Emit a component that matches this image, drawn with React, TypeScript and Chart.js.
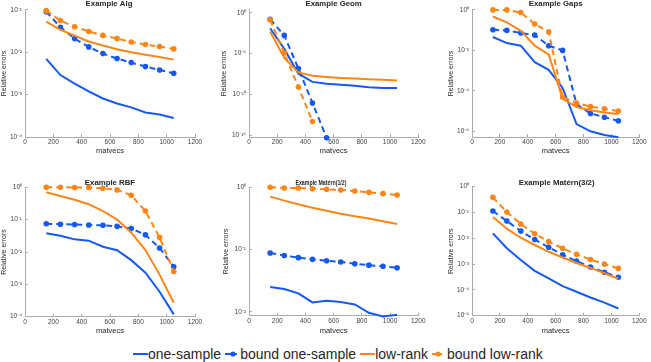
import { useEffect, useRef } from "react";
import { Chart, registerables } from "chart.js";

Chart.register(...registerables);

// ---------------- data ----------------
const MATVECS = [150, 250, 350, 450, 550, 650, 750, 850, 950, 1050];
const X_TICKS = [0, 200, 400, 600, 800, 1000, 1200];
const SERIES_NAMES = ["one-sample", "bound one-sample", "low-rank", "bound low-rank"];

const ALG_ONE = [7.0e-3, 2.9e-3, 1.83e-3, 1.19e-3, 8.1e-4, 6.2e-4, 5.0e-4, 3.8e-4, 3.4e-4, 2.8e-4];
const ALG_BOUND_ONE = [0.091, 0.039, 0.021, 0.0134, 0.0093, 0.0071, 0.0057, 0.0046, 0.0038, 0.0032];
const ALG_LOW = [0.053, 0.034, 0.0247, 0.018, 0.0144, 0.0118, 0.01, 0.0087, 0.0077, 0.0067];
const ALG_BOUND_LOW = [0.096, 0.056, 0.04, 0.031, 0.025, 0.021, 0.0175, 0.0152, 0.0136, 0.012];
const ALG_TICKS = [1e-4, 1e-3, 1e-2, 1e-1];

const GEOM_ONE = [1.26e-2, 3.8e-5, 3.5e-8, 3.5e-9, 2.0e-9, 1.6e-9, 1.2e-9, 7.6e-10, 6.3e-10, 6.3e-10];
const GEOM_BOUND_ONE = [0.16, 1.7e-3, 1.5e-7, 8.9e-12, 5.2e-16, null, null, null, null, null];
const GEOM_LOW = [5.1e-3, 3.0e-6, 5.0e-8, 2.0e-8, 1.4e-8, 1.07e-8, 8.9e-9, 7.4e-9, 6.3e-9, 5.1e-9];
const GEOM_BOUND_LOW = [0.135, 1.17e-5, 8.3e-10, 5.0e-14, null, null, null, null, null, null];
const GEOM_TICKS = [1e-15, 1e-10, 1e-5, 1];

const GAPS_ONE = [0.046, 0.023, 0.017, 2.6e-3, 1.1e-3, 1.4e-4, 2.3e-6, 1.0e-6, 6.6e-7, 5.1e-7];
const GAPS_BOUND_ONE = [0.105, 0.097, 0.072, 0.057, 0.017, 0.01, 2.2e-5, 7.6e-6, 5.0e-6, 3.3e-6];
const GAPS_LOW = [0.47, 0.24, 0.093, 0.017, 6.3e-3, 4.0e-5, 1.6e-5, 1.1e-5, 8.5e-6, 7.1e-6];
const GAPS_BOUND_LOW = [1.0, 1.0, 0.74, 0.2, 0.082, 5.0e-5, 2.5e-5, 1.66e-5, 1.3e-5, 1.0e-5];
const GAPS_TICKS = [1e-6, 1e-4, 1e-2, 1];

const RBF_ONE = [0.038, 0.032, 0.0246, 0.0224, 0.0146, 0.0113, 0.0056, 0.0023, 5.9e-4, 1.18e-4];
const RBF_BOUND_ONE = [0.075, 0.072, 0.071, 0.068, 0.067, 0.062, 0.053, 0.034, 0.0133, 0.0035];
const RBF_LOW = [0.7, 0.54, 0.41, 0.3, 0.185, 0.1, 0.04, 0.0115, 0.002, 2.7e-4];
const RBF_BOUND_LOW = [1.0, 1.0, 0.99, 0.99, 0.93, 0.83, 0.57, 0.185, 0.028, 0.0025];
const RBF_TICKS = [1e-4, 1e-3, 1e-2, 1e-1, 1];

const M12_ONE = [0.0249, 0.0232, 0.0197, 0.0141, 0.015, 0.0143, 0.0131, 0.0096, 0.0084, 0.0089];
const M12_BOUND_ONE = [0.088, 0.08, 0.074, 0.0695, 0.066, 0.063, 0.059, 0.056, 0.0537, 0.051];
const M12_LOW = [0.708, 0.61, 0.533, 0.47, 0.42, 0.377, 0.342, 0.314, 0.284, 0.257];
const M12_BOUND_LOW = [1.0, 0.975, 0.975, 0.95, 0.93, 0.906, 0.873, 0.83, 0.79, 0.75];
const M12_TICKS = [1e-2, 1e-1, 1];

const M32_ONE = [0.0155, 0.0041, 0.00144, 5.5e-4, 2.8e-4, 1.4e-4, 8.5e-5, 5.1e-5, 3.2e-5, 1.9e-5];
const M32_BOUND_ONE = [0.114, 0.047, 0.019, 0.0089, 0.0045, 0.0023, 0.0013, 7.7e-4, 4.8e-4, 3.1e-4];
const M32_LOW = [0.067, 0.0236, 0.0105, 0.0055, 0.003, 0.0018, 0.0011, 7.1e-4, 4.4e-4, 2.7e-4];
const M32_BOUND_LOW = [0.386, 0.104, 0.036, 0.015, 0.0074, 0.0041, 0.0024, 0.0015, 0.001, 6.8e-4];
const M32_TICKS = [1e-5, 1e-4, 1e-3, 1e-2, 1e-1, 1];

// ---------------- styles ----------------
const FONT = '"Liberation Sans", Arial, Helvetica, sans-serif';
const BLUE = "#1659f2";
const ORANGE = "#ff8616";
const COLORS = [BLUE, BLUE, ORANGE, ORANGE];
const AXIS_COLOR = "#ababab";
const TICK_COLOR = "#3d3d3d";
const TEXT_COLOR = "#262626";

type Panel = {
  title: string;
  series: (number | null)[][];
  yMin: number;
  yMax: number;
  yTicks: number[];
};

const PANELS: Panel[] = [
  { title: "Example Alg", series: [ALG_ONE, ALG_BOUND_ONE, ALG_LOW, ALG_BOUND_LOW], yMin: 1e-4, yMax: 1e-1, yTicks: ALG_TICKS },
  { title: "Example Geom", series: [GEOM_ONE, GEOM_BOUND_ONE, GEOM_LOW, GEOM_BOUND_LOW], yMin: Math.pow(10, -15.2), yMax: Math.pow(10, 0.35), yTicks: GEOM_TICKS },
  { title: "Example Gaps", series: [GAPS_ONE, GAPS_BOUND_ONE, GAPS_LOW, GAPS_BOUND_LOW], yMin: Math.pow(10, -6.28), yMax: 1, yTicks: GAPS_TICKS },
  { title: "Example RBF", series: [RBF_ONE, RBF_BOUND_ONE, RBF_LOW, RBF_BOUND_LOW], yMin: 1e-4, yMax: 1, yTicks: RBF_TICKS },
  { title: "Example Matérn(1/2)", series: [M12_ONE, M12_BOUND_ONE, M12_LOW, M12_BOUND_LOW], yMin: Math.pow(10, -2.064), yMax: 1, yTicks: M12_TICKS },
  { title: "Example Matérn(3/2)", series: [M32_ONE, M32_BOUND_ONE, M32_LOW, M32_BOUND_LOW], yMin: 1e-5, yMax: 1, yTicks: M32_TICKS },
];

type Box = {
  left: number; top: number; w: number; h: number;
  padTop: number; padRight: number; yAxisW: number; xAxisH: number;
  yTitlePad: number; titleY: number; titleDx: number; titleMaxW?: number;
};

const BOXES: Box[] = [
  { left: 0, top: 0, w: 210, h: 155, padTop: 8.3, padRight: 15, yAxisW: 25, xAxisH: 18, yTitlePad: 0, titleY: 3.5, titleDx: -1 },
  { left: 210, top: 0, w: 220, h: 155, padTop: 5.3, padRight: 11, yAxisW: 39, xAxisH: 18, yTitlePad: 9.8, titleY: 3.5, titleDx: 0 },
  { left: 430, top: 0, w: 221, h: 155, padTop: 8.3, padRight: 9, yAxisW: 42, xAxisH: 18, yTitlePad: 16.5, titleY: 3.5, titleDx: 0 },
  { left: 0, top: 170, w: 210, h: 165, padTop: 17.3, padRight: 15, yAxisW: 25, xAxisH: 18.3, yTitlePad: 0, titleY: 12.5, titleDx: 0 },
  { left: 210, top: 170, w: 220, h: 165, padTop: 17.3, padRight: 11, yAxisW: 39, xAxisH: 19.3, yTitlePad: 11.8, titleY: 12.5, titleDx: -12.7, titleMaxW: 51 },
  { left: 430, top: 170, w: 221, h: 165, padTop: 16.7, padRight: 9, yAxisW: 42, xAxisH: 19.3, yTitlePad: 16.5, titleY: 12.5, titleDx: 1 },
];

const SUP: Record<string, string> = {
  "-": "⁻", "0": "⁰", "1": "¹", "2": "²", "3": "³", "4": "⁴",
  "5": "⁵", "6": "⁶", "7": "⁷", "8": "⁸", "9": "⁹",
};
function powLabel(v: number): string {
  const e = Math.round(Math.log10(v));
  return "10" + String(e).split("").map((c) => SUP[c] || c).join("");
}

const panelTitlePlugin = {
  id: "panelTitle",
  afterDraw(chart: any, _args: any, opts: any) {
    const { ctx, chartArea } = chart;
    ctx.save();
    ctx.font = `bold 7.8px ${FONT}`;
    ctx.fillStyle = TEXT_COLOR;
    ctx.textAlign = "center";
    ctx.textBaseline = "middle";
    const x = (chartArea.left + chartArea.right) / 2 + (opts.dx || 0);
    if (opts.maxWidth) ctx.fillText(opts.text, x, opts.y, opts.maxWidth);
    else ctx.fillText(opts.text, x, opts.y);
    ctx.restore();
  },
};

function PanelChart({ panel, box }: { panel: Panel; box: Box }) {
  const ref = useRef<HTMLCanvasElement | null>(null);
  useEffect(() => {
    if (!ref.current) return;
    const datasets = panel.series.map((vals, i) => ({
      label: SERIES_NAMES[i],
      data: MATVECS.map((x, j) => ({ x, y: vals[j] })),
      borderColor: COLORS[i],
      backgroundColor: COLORS[i],
      borderWidth: 2,
      borderDash: i % 2 === 1 ? [6, 4] : [],
      pointRadius: i % 2 === 1 ? 2.8 : 0,
      pointBorderWidth: 0,
      pointBackgroundColor: COLORS[i],
      tension: 0,
      fill: false,
      clip: false,
      order: 4 - i,
    }));
    const chart = new Chart(ref.current, {
      type: "line",
      data: { datasets },
      plugins: [panelTitlePlugin],
      options: {
        animation: false,
        responsive: false,
        devicePixelRatio: 1,
        layout: { padding: { left: 0, right: box.padRight, top: box.padTop, bottom: 0 } },
        plugins: {
          legend: { display: false },
          tooltip: { enabled: false },
          title: { display: false },
          panelTitle: { text: panel.title, y: box.titleY, dx: box.titleDx, maxWidth: box.titleMaxW },
        } as any,
        scales: {
          x: {
            type: "linear",
            min: 0,
            max: 1200,
            afterBuildTicks: (s: any) => { s.ticks = X_TICKS.map((v) => ({ value: v })); },
            afterFit: (s: any) => { s.height = box.xAxisH; },
            grid: { display: true, drawOnChartArea: false, drawTicks: true, tickLength: -3, tickColor: AXIS_COLOR, tickWidth: 1 },
            border: { display: true, color: AXIS_COLOR, width: 1 },
            ticks: { font: { family: FONT, size: 6.5 }, color: TICK_COLOR, padding: 4.5, maxRotation: 0, autoSkip: false, callback: (v: any) => String(v) },
            title: { display: true, text: "matvecs", font: { family: FONT, size: 7.5 }, color: TEXT_COLOR, padding: { top: 0, bottom: 0 } },
          },
          y: {
            type: "logarithmic",
            min: panel.yMin,
            max: panel.yMax,
            bounds: "data",
            afterBuildTicks: (s: any) => { s.ticks = panel.yTicks.map((v) => ({ value: v })); },
            afterFit: (s: any) => { s.width = box.yAxisW; },
            grid: { display: true, drawOnChartArea: false, drawTicks: true, tickLength: -3, tickColor: AXIS_COLOR, tickWidth: 1 },
            border: { display: true, color: AXIS_COLOR, width: 1 },
            ticks: { font: { family: FONT, size: 6.5 }, color: TICK_COLOR, padding: 6, autoSkip: false, callback: (v: any) => powLabel(Number(v)) },
            title: { display: true, text: "Relative errors", font: { family: FONT, size: 7 }, color: TEXT_COLOR, padding: { top: box.yTitlePad, bottom: 0 } },
          },
        },
      } as any,
    });
    return () => chart.destroy();
  }, [panel, box]);
  return (
    <canvas
      ref={ref}
      width={box.w}
      height={box.h}
      style={{ position: "absolute", left: box.left, top: box.top, width: box.w, height: box.h, display: "block" }}
    />
  );
}

function LineSwatch({ color, width }: { color: string; width: number }) {
  return (
    <svg width={width} height={10} style={{ display: "block" }}>
      <line x1={0} y1={5} x2={width} y2={5} stroke={color} strokeWidth={2} />
    </svg>
  );
}
function MarkerSwatch({ color, width }: { color: string; width: number }) {
  return (
    <svg width={width} height={10} style={{ display: "block" }}>
      <line x1={0} y1={5} x2={width} y2={5} stroke={color} strokeWidth={2} />
      <circle cx={width - 4} cy={5} r={2.6} fill={color} />
    </svg>
  );
}

export default function App() {
  const textStyle: any = { fontFamily: FONT, fontSize: 14, color: TEXT_COLOR, whiteSpace: "nowrap", lineHeight: "18px" };
  return (
    <div style={{ position: "absolute", left: 0, top: 0, width: 651, height: 362, background: "#ffffff", overflow: "hidden" }}>
      {PANELS.map((p, i) => (
        <PanelChart key={i} panel={p} box={BOXES[i]} />
      ))}
      <div style={{ position: "absolute", left: 133, top: 345, height: 18, display: "flex", alignItems: "center" }}>
        <LineSwatch color={BLUE} width={15} />
        <span style={textStyle}>{SERIES_NAMES[0]}</span>
        <div style={{ width: 4 }} />
        <MarkerSwatch color={BLUE} width={12} />
        <div style={{ width: 3 }} />
        <span style={textStyle}>{SERIES_NAMES[1]}</span>
        <div style={{ width: 4 }} />
        <LineSwatch color={ORANGE} width={15} />
        <span style={textStyle}>{SERIES_NAMES[2]}</span>
        <div style={{ width: 4 }} />
        <MarkerSwatch color={ORANGE} width={10} />
        <div style={{ width: 5 }} />
        <span style={textStyle}>{SERIES_NAMES[3]}</span>
      </div>
    </div>
  );
}
